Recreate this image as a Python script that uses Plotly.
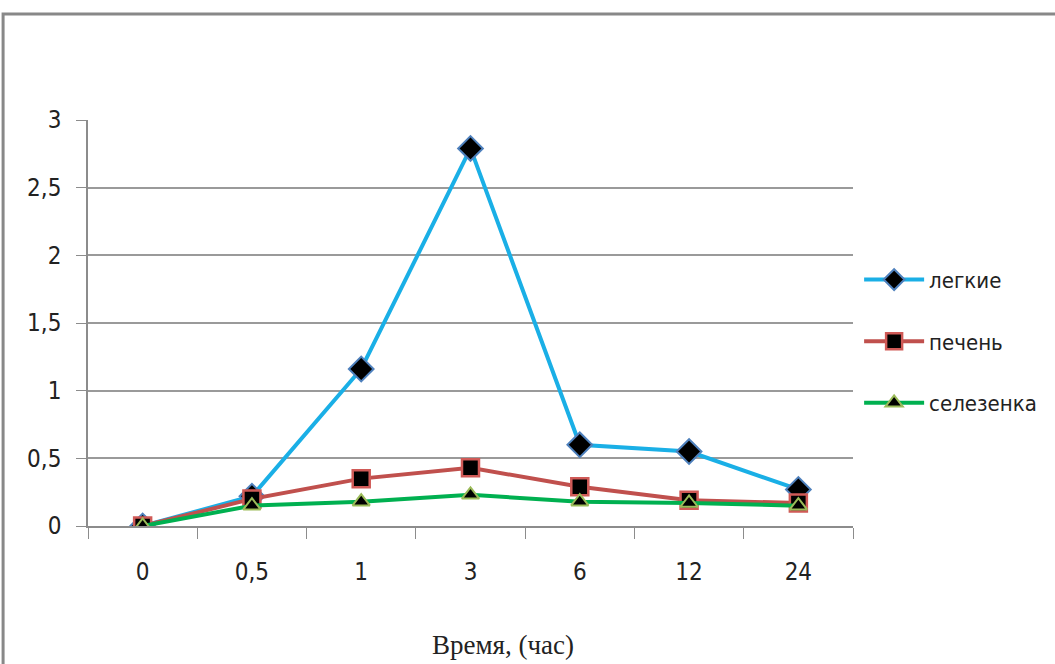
import plotly.graph_objects as go

categories = ["0", "0,5", "1", "3", "6", "12", "24"]
lungs = [0.0, 0.22, 1.16, 2.79, 0.60, 0.55, 0.27]
liver = [0.0, 0.20, 0.35, 0.43, 0.29, 0.19, 0.17]
spleen = [0.0, 0.15, 0.18, 0.23, 0.18, 0.17, 0.15]
names = ["легкие", "печень", "селезенка"]
x_title = "Время, (час)"

font_main = "DejaVu Sans Condensed, Liberation Sans Narrow, Arial Narrow, sans-serif"

fig = go.Figure()
fig.add_trace(go.Scatter(
    x=categories, y=lungs, name=names[0], mode="lines+markers", legendgroup="a",
    line=dict(color="#1AAFE6", width=4),
    marker=dict(symbol="diamond", size=19, color="black", line=dict(color="#4F81BD", width=2)),
))
fig.add_trace(go.Scatter(
    x=categories, y=liver, name=names[1], mode="lines+markers", legendgroup="b",
    line=dict(color="#C0504D", width=4),
    marker=dict(symbol="square", size=17, color="black", line=dict(color="#D05A57", width=2.5)),
))
fig.add_trace(go.Scatter(
    x=categories, y=spleen, name=names[2], mode="lines+markers", legendgroup="c",
    line=dict(color="#00B050", width=4),
    marker=dict(symbol="triangle-up", size=15, color="black", line=dict(color="#9BBB59", width=2)),
))

fig.update_layout(
    width=1055, height=664,
    paper_bgcolor="white", plot_bgcolor="white",
    margin=dict(l=88, r=202, t=120, b=138),
    separators=", ",
    font=dict(family=font_main, size=22, color="#222"),
    legend=dict(x=1.008, xanchor="left", y=0.455, yanchor="middle",
                font=dict(family=font_main, size=22, color="#222"),
                tracegroupgap=30, itemwidth=60, bgcolor="rgba(0,0,0,0)"),
    shapes=[dict(type="rect", xref="paper", yref="paper",
                 x0=-0.111, x1=1.5, y0=-1.0, y1=1.261,
                 line=dict(color="#888888", width=3), layer="below")],
    annotations=[dict(text=x_title, xref="paper", yref="paper", x=0.5425, y=-0.293,
                      xanchor="center", yanchor="middle", showarrow=False,
                      font=dict(family="Liberation Serif, Times New Roman, serif", size=27, color="#222"))],
)
fig.update_xaxes(
    type="category", range=[-0.5, 6.5], showline=True, linecolor="#8c8c8c", linewidth=1.5,
    ticks="outside", tickson="boundaries", ticklen=11, tickcolor="#8c8c8c",
    showgrid=False, tickfont=dict(size=24), ticklabelstandoff=23,
)
fig.update_yaxes(
    range=[0, 3], dtick=0.5, showline=True, linecolor="#8c8c8c", linewidth=1.5,
    ticks="outside", ticklen=10, tickcolor="#8c8c8c",
    showgrid=True, gridcolor="#9a9a9a", gridwidth=1.5, zeroline=False,
    tickfont=dict(size=24), ticklabelstandoff=10,
)

fig.write_html("out.html", post_script="document.body.style.margin='0';",
               config={"displayModeBar": False})
